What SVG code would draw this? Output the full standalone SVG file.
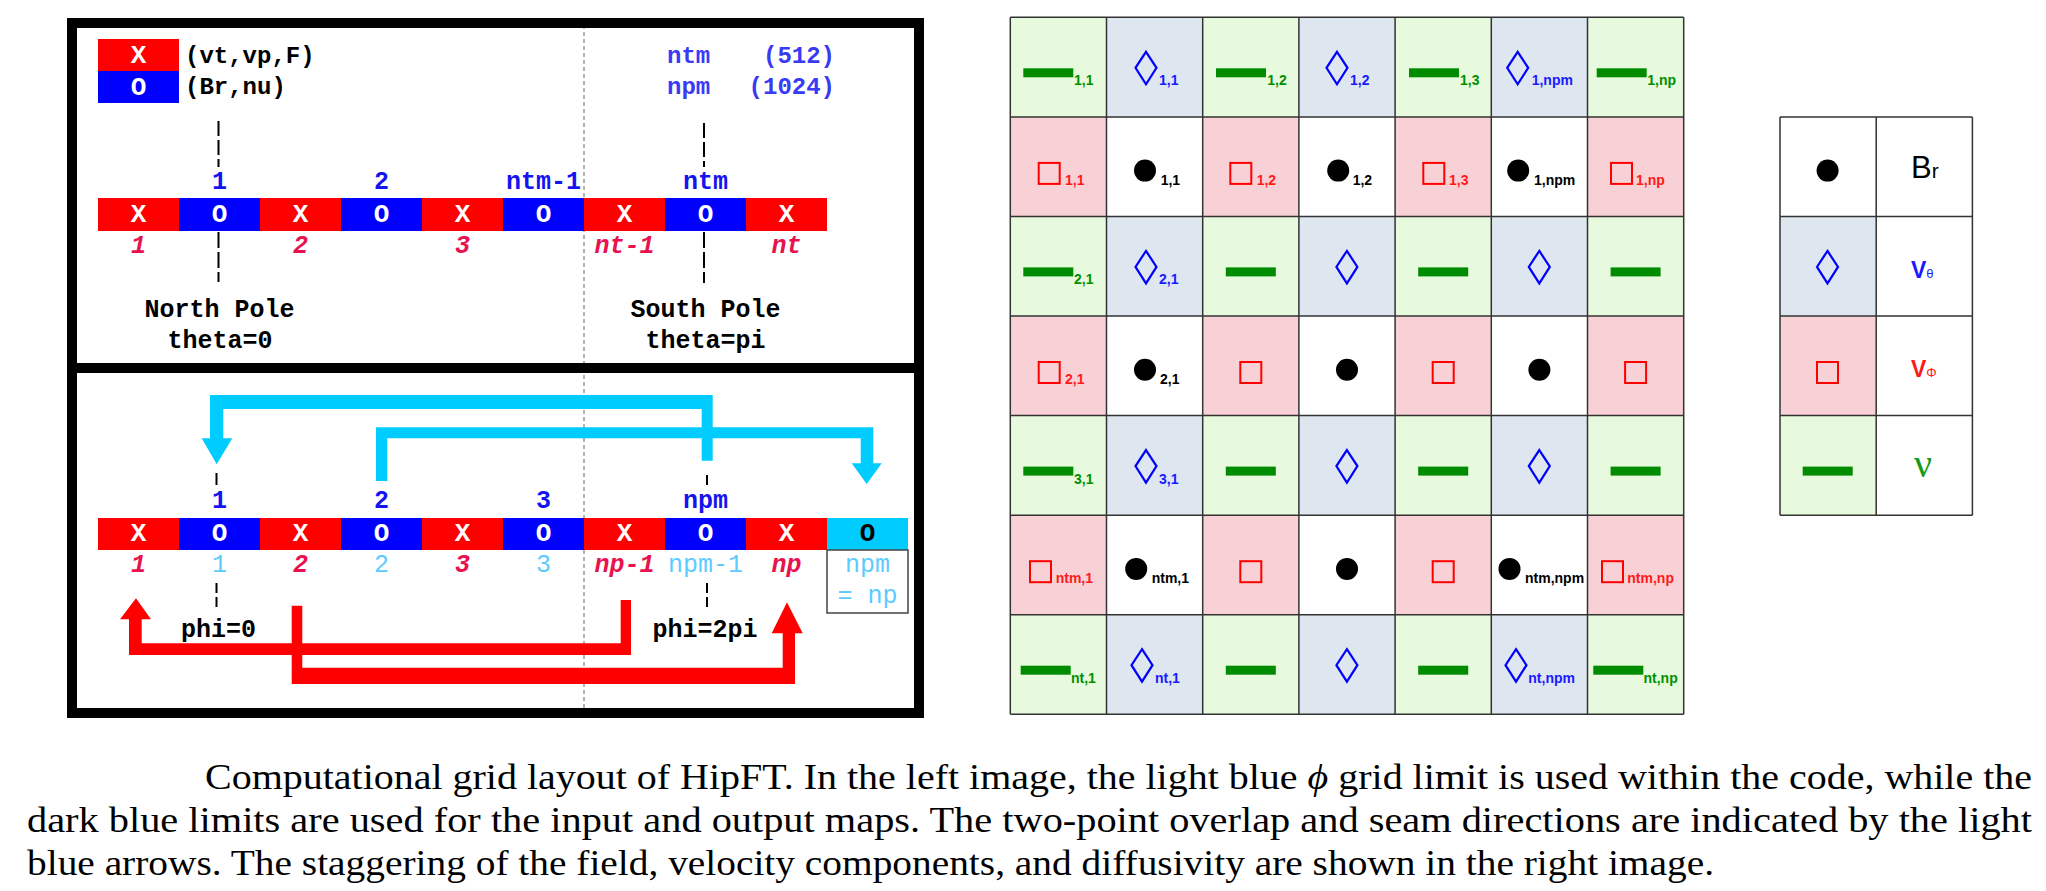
<svg xmlns="http://www.w3.org/2000/svg" xmlns:xlink="http://www.w3.org/1999/xlink" width="2046" height="891" viewBox="0 0 2046 891">
<style>
.mono{font-family:"Liberation Mono","Courier New",monospace;font-weight:bold;font-size:25px}
.lg{font-size:24px}
.cell{font-family:"Liberation Mono","Courier New",monospace;font-weight:bold;font-size:26px;text-anchor:middle}
.w{fill:#ffffff}
.mid{text-anchor:middle}
.dk{fill:#1414f0}
.lb{fill:#5ccbff;font-weight:normal}
.cr{fill:#e8124f;font-style:italic}
.blk{fill:#000}
.sub{font-family:"Liberation Sans",Arial,sans-serif;font-weight:bold;font-size:14px}
.sg{fill:#009000}.sb{fill:#1a1aff}.sr{fill:#ff1a1a}.sk{fill:#000}
.gG{fill:#e8fadd}.gB{fill:#dee6f0}.gP{fill:#f7d1d5}.gW{fill:#ffffff}
.gl{stroke:#333;stroke-width:1.5;fill:none}
.dash{stroke:#000;stroke-width:2;fill:none}
.cap{font-family:"Liberation Serif","Times New Roman",serif;font-size:36px;fill:#000}
</style>
<defs>
<rect id="bar" width="50" height="9" fill="#008c00"/>
<path id="dia" d="M11,1 L21.5,17 L11,33.5 L0.5,17 Z" fill="none" stroke="#0000ff" stroke-width="2.2"/>
<rect id="sq" x="1" y="1" width="21" height="21" fill="none" stroke="#ff0000" stroke-width="2"/>
<circle id="dot" r="11" fill="#000"/>
</defs>
<rect width="2046" height="891" fill="#fff"/>

<!-- left panel frame -->
<g id="frame">
<line x1="584" y1="18" x2="584" y2="716" stroke="#999" stroke-width="1.5" stroke-dasharray="4 3"/>
<rect x="72" y="23" width="847" height="690" fill="none" stroke="#000" stroke-width="10"/>
<line x1="67" y1="368" x2="924" y2="368" stroke="#000" stroke-width="10"/>
</g>

<g id="legend-left">
<rect x="98" y="39" width="81" height="32" fill="#ff0000"/>
<rect x="98" y="71" width="81" height="32" fill="#0000ff"/>
<text class="cell w" x="138.5" y="63">X</text>
<text class="cell w" x="138.5" y="95">O</text>
<text class="mono lg" x="185" y="63">(vt,vp,F)</text>
<text class="mono lg" x="185" y="94">(Br,nu)</text>
</g>
<g id="legend-sizes">
<text class="mono lg" x="667" y="63" fill="#3a3af5">ntm</text>
<text class="mono lg" x="835" y="63" fill="#3a3af5" text-anchor="end">(512)</text>
<text class="mono lg" x="667" y="94" fill="#3a3af5">npm</text>
<text class="mono lg" x="835" y="94" fill="#3a3af5" text-anchor="end">(1024)</text>
</g>

<g id="theta-bar">
<rect x="98" y="198" width="81" height="33" fill="#ff0000"/>
<rect x="179" y="198" width="81" height="33" fill="#0000ff"/>
<rect x="260" y="198" width="81" height="33" fill="#ff0000"/>
<rect x="341" y="198" width="81" height="33" fill="#0000ff"/>
<rect x="422" y="198" width="81" height="33" fill="#ff0000"/>
<rect x="503" y="198" width="81" height="33" fill="#0000ff"/>
<rect x="584" y="198" width="81" height="33" fill="#ff0000"/>
<rect x="665" y="198" width="81" height="33" fill="#0000ff"/>
<rect x="746" y="198" width="81" height="33" fill="#ff0000"/>
<text class="cell w" x="138.5" y="222">X</text>
<text class="cell w" x="219.5" y="222">O</text>
<text class="cell w" x="300.5" y="222">X</text>
<text class="cell w" x="381.5" y="222">O</text>
<text class="cell w" x="462.5" y="222">X</text>
<text class="cell w" x="543.5" y="222">O</text>
<text class="cell w" x="624.5" y="222">X</text>
<text class="cell w" x="705.5" y="222">O</text>
<text class="cell w" x="786.5" y="222">X</text>
<text class="mono mid dk" x="219.5" y="189">1</text>
<text class="mono mid dk" x="381.5" y="189">2</text>
<text class="mono mid dk" x="543.5" y="189">ntm-1</text>
<text class="mono mid dk" x="705.5" y="189">ntm</text>
<text class="mono mid cr" x="138.5" y="253">1</text>
<text class="mono mid cr" x="300.5" y="253">2</text>
<text class="mono mid cr" x="462.5" y="253">3</text>
<text class="mono mid cr" x="624.5" y="253">nt-1</text>
<text class="mono mid cr" x="786.5" y="253">nt</text>
<text class="mono mid blk" x="219.5" y="317">North Pole</text>
<text class="mono mid blk" x="220" y="348">theta=0</text>
<text class="mono mid blk" x="705.5" y="317">South Pole</text>
<text class="mono mid blk" x="705.5" y="348">theta=pi</text>
</g>

<g id="phi-bar">
<rect x="98" y="518" width="81" height="32" fill="#ff0000"/>
<rect x="179" y="518" width="81" height="32" fill="#0000ff"/>
<rect x="260" y="518" width="81" height="32" fill="#ff0000"/>
<rect x="341" y="518" width="81" height="32" fill="#0000ff"/>
<rect x="422" y="518" width="81" height="32" fill="#ff0000"/>
<rect x="503" y="518" width="81" height="32" fill="#0000ff"/>
<rect x="584" y="518" width="81" height="32" fill="#ff0000"/>
<rect x="665" y="518" width="81" height="32" fill="#0000ff"/>
<rect x="746" y="518" width="81" height="32" fill="#ff0000"/>
<rect x="827" y="518" width="81" height="32" fill="#00ccff"/>
<text class="cell w" x="138.5" y="541">X</text>
<text class="cell w" x="219.5" y="541">O</text>
<text class="cell w" x="300.5" y="541">X</text>
<text class="cell w" x="381.5" y="541">O</text>
<text class="cell w" x="462.5" y="541">X</text>
<text class="cell w" x="543.5" y="541">O</text>
<text class="cell w" x="624.5" y="541">X</text>
<text class="cell w" x="705.5" y="541">O</text>
<text class="cell w" x="786.5" y="541">X</text>
<text class="cell blk" x="867.5" y="541">O</text>
<text class="mono mid dk" x="219.5" y="508">1</text>
<text class="mono mid dk" x="381.5" y="508">2</text>
<text class="mono mid dk" x="543.5" y="508">3</text>
<text class="mono mid dk" x="705.5" y="508">npm</text>
<text class="mono mid cr" x="138.5" y="572">1</text>
<text class="mono mid lb" x="219.5" y="572">1</text>
<text class="mono mid cr" x="300.5" y="572">2</text>
<text class="mono mid lb" x="381.5" y="572">2</text>
<text class="mono mid cr" x="462.5" y="572">3</text>
<text class="mono mid lb" x="543.5" y="572">3</text>
<text class="mono mid cr" x="624.5" y="572">np-1</text>
<text class="mono mid lb" x="705.5" y="572">npm-1</text>
<text class="mono mid cr" x="786.5" y="572">np</text>
<text class="mono mid blk" x="218.5" y="637">phi=0</text>
<text class="mono mid blk" x="705" y="637">phi=2pi</text>
</g>
<g id="npm-eq-np">
<rect x="827" y="550" width="81" height="63" fill="none" stroke="#444" stroke-width="1.5"/>
<text class="mono mid lb" x="867.5" y="572">npm</text>
<text class="mono mid lb" x="867.5" y="603">= np</text>
</g>

<g id="connectors">
<line class="dash" x1="218.5" y1="121" x2="218.5" y2="167" stroke-dasharray="15 4"/>
<line class="dash" x1="218.5" y1="232" x2="218.5" y2="282" stroke-dasharray="16 4"/>
<line class="dash" x1="704" y1="123" x2="704" y2="167" stroke-dasharray="15 4"/>
<line class="dash" x1="704" y1="232" x2="704" y2="283" stroke-dasharray="16 4"/>
<line class="dash" x1="216.5" y1="473" x2="216.5" y2="485"/>
<line class="dash" x1="216.5" y1="583" x2="216.5" y2="607" stroke-dasharray="10 4"/>
<line class="dash" x1="707" y1="475" x2="707" y2="485"/>
<line class="dash" x1="707" y1="583" x2="707" y2="611" stroke-dasharray="10 4"/>
<path id="arrow-cyan-1" fill="#00ccff" d="M701.7,460.7 L712.7,460.7 L712.7,395 L210,395 L210,438.3 L201.7,438.3 L216.7,464.3 L232.3,438.3 L223.3,438.3 L223.3,409 L701.7,409 Z"/>
<path id="arrow-cyan-2" fill="#00ccff" d="M376,481 L387.3,481 L387.3,438.3 L860.7,438.3 L860.7,463.3 L851.7,463.3 L866.7,484 L881.7,463.3 L873.3,463.3 L873.3,427.3 L376,427.3 Z"/>
<path id="arrow-red-1" fill="#ff0000" d="M620.7,600 L631,600 L631,655 L129,655 L129,619.3 L120,619.3 L136,598.3 L151,619.3 L141.7,619.3 L141.7,643.3 L620.7,643.3 Z"/>
<path id="arrow-red-2" fill="#ff0000" d="M291.7,605.7 L302.3,605.7 L302.3,667.7 L782.7,667.7 L782.7,633.3 L771.7,633.3 L787,602.3 L802.7,633.3 L795,633.3 L795,684 L291.7,684 Z"/>
</g>

<!-- staggered grid -->
<g id="grid-bg">
<rect class="gG" x="1010.3" y="17.3" width="96.2" height="99.6"/><rect class="gB" x="1106.5" y="17.3" width="96.2" height="99.6"/><rect class="gG" x="1202.7" y="17.3" width="96.2" height="99.6"/><rect class="gB" x="1298.9" y="17.3" width="96.2" height="99.6"/><rect class="gG" x="1395.1" y="17.3" width="96.2" height="99.6"/><rect class="gB" x="1491.3" y="17.3" width="96.2" height="99.6"/><rect class="gG" x="1587.5" y="17.3" width="96.2" height="99.6"/>
<rect class="gP" x="1010.3" y="116.9" width="96.2" height="99.5"/><rect class="gW" x="1106.5" y="116.9" width="96.2" height="99.5"/><rect class="gP" x="1202.7" y="116.9" width="96.2" height="99.5"/><rect class="gW" x="1298.9" y="116.9" width="96.2" height="99.5"/><rect class="gP" x="1395.1" y="116.9" width="96.2" height="99.5"/><rect class="gW" x="1491.3" y="116.9" width="96.2" height="99.5"/><rect class="gP" x="1587.5" y="116.9" width="96.2" height="99.5"/>
<rect class="gG" x="1010.3" y="216.4" width="96.2" height="99.6"/><rect class="gB" x="1106.5" y="216.4" width="96.2" height="99.6"/><rect class="gG" x="1202.7" y="216.4" width="96.2" height="99.6"/><rect class="gB" x="1298.9" y="216.4" width="96.2" height="99.6"/><rect class="gG" x="1395.1" y="216.4" width="96.2" height="99.6"/><rect class="gB" x="1491.3" y="216.4" width="96.2" height="99.6"/><rect class="gG" x="1587.5" y="216.4" width="96.2" height="99.6"/>
<rect class="gP" x="1010.3" y="316" width="96.2" height="99.6"/><rect class="gW" x="1106.5" y="316" width="96.2" height="99.6"/><rect class="gP" x="1202.7" y="316" width="96.2" height="99.6"/><rect class="gW" x="1298.9" y="316" width="96.2" height="99.6"/><rect class="gP" x="1395.1" y="316" width="96.2" height="99.6"/><rect class="gW" x="1491.3" y="316" width="96.2" height="99.6"/><rect class="gP" x="1587.5" y="316" width="96.2" height="99.6"/>
<rect class="gG" x="1010.3" y="415.6" width="96.2" height="99.6"/><rect class="gB" x="1106.5" y="415.6" width="96.2" height="99.6"/><rect class="gG" x="1202.7" y="415.6" width="96.2" height="99.6"/><rect class="gB" x="1298.9" y="415.6" width="96.2" height="99.6"/><rect class="gG" x="1395.1" y="415.6" width="96.2" height="99.6"/><rect class="gB" x="1491.3" y="415.6" width="96.2" height="99.6"/><rect class="gG" x="1587.5" y="415.6" width="96.2" height="99.6"/>
<rect class="gP" x="1010.3" y="515.2" width="96.2" height="99.5"/><rect class="gW" x="1106.5" y="515.2" width="96.2" height="99.5"/><rect class="gP" x="1202.7" y="515.2" width="96.2" height="99.5"/><rect class="gW" x="1298.9" y="515.2" width="96.2" height="99.5"/><rect class="gP" x="1395.1" y="515.2" width="96.2" height="99.5"/><rect class="gW" x="1491.3" y="515.2" width="96.2" height="99.5"/><rect class="gP" x="1587.5" y="515.2" width="96.2" height="99.5"/>
<rect class="gG" x="1010.3" y="614.7" width="96.2" height="99.6"/><rect class="gB" x="1106.5" y="614.7" width="96.2" height="99.6"/><rect class="gG" x="1202.7" y="614.7" width="96.2" height="99.6"/><rect class="gB" x="1298.9" y="614.7" width="96.2" height="99.6"/><rect class="gG" x="1395.1" y="614.7" width="96.2" height="99.6"/><rect class="gB" x="1491.3" y="614.7" width="96.2" height="99.6"/><rect class="gG" x="1587.5" y="614.7" width="96.2" height="99.6"/>
</g>
<g id="grid-lines" class="gl">
<path d="M1010.3,17.3V714.3M1106.5,17.3V714.3M1202.7,17.3V714.3M1298.9,17.3V714.3M1395.1,17.3V714.3M1491.3,17.3V714.3M1587.5,17.3V714.3M1683.7,17.3V714.3"/>
<path d="M1010.3,17.3H1683.7M1010.3,116.9H1683.7M1010.3,216.4H1683.7M1010.3,316H1683.7M1010.3,415.6H1683.7M1010.3,515.2H1683.7M1010.3,614.7H1683.7M1010.3,714.3H1683.7"/>
</g>

<g id="row1">
<g id="c1-1"><use href="#bar" x="1023.3" y="68.3"/><text class="sub sg" x="1074" y="85.3">1,1</text></g>
<g id="c1-2"><use href="#dia" x="1135" y="50.8"/><text class="sub sb" x="1159" y="85.3">1,1</text></g>
<g id="c1-3"><use href="#bar" x="1216" y="68.3"/><text class="sub sg" x="1267.3" y="85.3">1,2</text></g>
<g id="c1-4"><use href="#dia" x="1326" y="50.8"/><text class="sub sb" x="1350" y="85.3">1,2</text></g>
<g id="c1-5"><use href="#bar" x="1409" y="68.3"/><text class="sub sg" x="1460" y="85.3">1,3</text></g>
<g id="c1-6"><use href="#dia" x="1506.7" y="50.8"/><text class="sub sb" x="1531.7" y="85.3">1,npm</text></g>
<g id="c1-7"><use href="#bar" x="1596.7" y="68.3"/><text class="sub sg" x="1647.3" y="85.3">1,np</text></g>
</g>
<g id="row2">
<g id="c2-1"><use href="#sq" x="1037.7" y="161.9"/><text class="sub sr" x="1065" y="184.9">1,1</text></g>
<g id="c2-2"><use href="#dot" x="1145" y="170.6"/><text class="sub sk" x="1160.7" y="184.9">1,1</text></g>
<g id="c2-3"><use href="#sq" x="1229.3" y="161.9"/><text class="sub sr" x="1256.7" y="184.9">1,2</text></g>
<g id="c2-4"><use href="#dot" x="1338.2" y="170.6"/><text class="sub sk" x="1352.7" y="184.9">1,2</text></g>
<g id="c2-5"><use href="#sq" x="1422.3" y="161.9"/><text class="sub sr" x="1449" y="184.9">1,3</text></g>
<g id="c2-6"><use href="#dot" x="1518.2" y="170.6"/><text class="sub sk" x="1534" y="184.9">1,npm</text></g>
<g id="c2-7"><use href="#sq" x="1610" y="161.9"/><text class="sub sr" x="1636" y="184.9">1,np</text></g>
</g>
<g id="row3">
<g id="c3-1"><use href="#bar" x="1023.3" y="267.4"/><text class="sub sg" x="1074" y="284.4">2,1</text></g>
<g id="c3-2"><use href="#dia" x="1135" y="249.9"/><text class="sub sb" x="1159" y="284.4">2,1</text></g>
<g id="c3-3"><use href="#bar" x="1225.8" y="267.4"/></g>
<g id="c3-4"><use href="#dia" x="1335.9" y="249.9"/></g>
<g id="c3-5"><use href="#bar" x="1418.2" y="267.4"/></g>
<g id="c3-6"><use href="#dia" x="1528.3" y="249.9"/></g>
<g id="c3-7"><use href="#bar" x="1610.6" y="267.4"/></g>
</g>
<g id="row4">
<g id="c4-1"><use href="#sq" x="1037.7" y="361"/><text class="sub sr" x="1065" y="384">2,1</text></g>
<g id="c4-2"><use href="#dot" x="1145" y="369.7"/><text class="sub sk" x="1160" y="384">2,1</text></g>
<g id="c4-3"><use href="#sq" x="1239.3" y="361"/></g>
<g id="c4-4"><use href="#dot" x="1347" y="369.7"/></g>
<g id="c4-5"><use href="#sq" x="1431.7" y="361"/></g>
<g id="c4-6"><use href="#dot" x="1539.4" y="369.7"/></g>
<g id="c4-7"><use href="#sq" x="1624.1" y="361"/></g>
</g>
<g id="row5">
<g id="c5-1"><use href="#bar" x="1023.3" y="466.6"/><text class="sub sg" x="1074" y="483.6">3,1</text></g>
<g id="c5-2"><use href="#dia" x="1135" y="449.1"/><text class="sub sb" x="1159" y="483.6">3,1</text></g>
<g id="c5-3"><use href="#bar" x="1225.8" y="466.6"/></g>
<g id="c5-4"><use href="#dia" x="1335.9" y="449.1"/></g>
<g id="c5-5"><use href="#bar" x="1418.2" y="466.6"/></g>
<g id="c5-6"><use href="#dia" x="1528.3" y="449.1"/></g>
<g id="c5-7"><use href="#bar" x="1610.6" y="466.6"/></g>
</g>
<g id="row6">
<g id="c6-1"><use href="#sq" x="1029" y="560.2"/><text class="sub sr" x="1055.7" y="583.2">ntm,1</text></g>
<g id="c6-2"><use href="#dot" x="1136.2" y="568.9"/><text class="sub sk" x="1151.7" y="583.2">ntm,1</text></g>
<g id="c6-3"><use href="#sq" x="1239.3" y="560.2"/></g>
<g id="c6-4"><use href="#dot" x="1347" y="568.9"/></g>
<g id="c6-5"><use href="#sq" x="1431.7" y="560.2"/></g>
<g id="c6-6"><use href="#dot" x="1509.5" y="568.9"/><text class="sub sk" x="1525" y="583.2">ntm,npm</text></g>
<g id="c6-7"><use href="#sq" x="1601" y="560.2"/><text class="sub sr" x="1627.3" y="583.2">ntm,np</text></g>
</g>
<g id="row7">
<g id="c7-1"><use href="#bar" x="1020.7" y="665.7"/><text class="sub sg" x="1071" y="682.7">nt,1</text></g>
<g id="c7-2"><use href="#dia" x="1131" y="648.2"/><text class="sub sb" x="1155" y="682.7">nt,1</text></g>
<g id="c7-3"><use href="#bar" x="1225.8" y="665.7"/></g>
<g id="c7-4"><use href="#dia" x="1335.9" y="648.2"/></g>
<g id="c7-5"><use href="#bar" x="1418.2" y="665.7"/></g>
<g id="c7-6"><use href="#dia" x="1505" y="648.2"/><text class="sub sb" x="1528.3" y="682.7">nt,npm</text></g>
<g id="c7-7"><use href="#bar" x="1593.3" y="665.7"/><text class="sub sg" x="1643.5" y="682.7">nt,np</text></g>
</g>

<!-- legend table -->
<g id="legend-table">
<rect class="gW" x="1780" y="116.9" width="96.2" height="99.5"/>
<rect class="gB" x="1780" y="216.4" width="96.2" height="99.6"/>
<rect class="gP" x="1780" y="316" width="96.2" height="99.6"/>
<rect class="gG" x="1780" y="415.6" width="96.2" height="99.6"/>
<path class="gl" d="M1780,116.9V515.2M1876.2,116.9V515.2M1972.4,116.9V515.2M1780,116.9H1972.4M1780,216.4H1972.4M1780,316H1972.4M1780,415.6H1972.4M1780,515.2H1972.4"/>
<g id="leg-br"><use href="#dot" x="1827.6" y="170.6"/><text x="1911" y="178.3" font-family="Liberation Sans, Arial, sans-serif" font-size="31" fill="#000">B<tspan font-size="21">r</tspan></text></g>
<g id="leg-vt"><use href="#dia" x="1816.5" y="249.9"/><text x="1911" y="277.7" font-family="Liberation Sans, Arial, sans-serif" font-weight="bold" font-size="23" fill="#1a1aff">V<tspan font-size="13" font-weight="normal">θ</tspan></text></g>
<g id="leg-vp"><use href="#sq" x="1816" y="361"/><text x="1911" y="377.3" font-family="Liberation Sans, Arial, sans-serif" font-weight="bold" font-size="23" fill="#ff1a1a">V<tspan font-size="13" font-weight="normal">Φ</tspan></text></g>
<g id="leg-nu"><use href="#bar" x="1802.7" y="466.6"/><text x="1923" y="477" text-anchor="middle" font-family="Liberation Serif, Times New Roman, serif" font-size="40" fill="#1a9a1a">ν</text></g>
</g>

<g id="caption">
<text class="cap" x="205" y="789" textLength="1827" lengthAdjust="spacingAndGlyphs">Computational grid layout of HipFT. In the left image, the light blue <tspan font-style="italic">ϕ</tspan> grid limit is used within the code, while the</text>
<text class="cap" x="27" y="832" textLength="2005" lengthAdjust="spacingAndGlyphs">dark blue limits are used for the input and output maps. The two-point overlap and seam directions are indicated by the light</text>
<text class="cap" x="27" y="875" textLength="1687" lengthAdjust="spacingAndGlyphs">blue arrows. The staggering of the field, velocity components, and diffusivity are shown in the right image.</text>
</g>
</svg>
